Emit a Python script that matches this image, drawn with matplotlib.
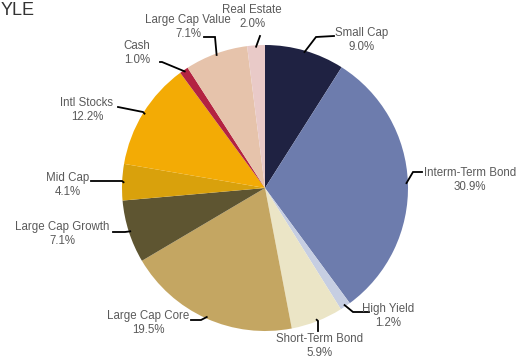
import matplotlib
matplotlib.use("Agg")
import matplotlib.pyplot as plt
import numpy as np

plt.rcParams['font.family'] = ['Liberation Sans', 'DejaVu Sans']

# allocation by style, clockwise from 12 o'clock
categories = ["Small Cap", "Interm-Term Bond", "High Yield", "Short-Term Bond",
              "Large Cap Core", "Large Cap Growth", "Mid Cap", "Intl Stocks",
              "Cash", "Large Cap Value", "Real Estate"]
weights = [9.0, 30.9, 1.2, 5.9, 19.5, 7.1, 4.1, 12.2, 1.0, 7.1, 2.0]
colors = ["#1f2242", "#6d7cad", "#c6cee2", "#ebe5c6", "#c4a662", "#5e5531",
          "#d9a10c", "#f3ab05", "#b32341", "#e6c3ab", "#e9cac8"]

W, H = 517, 360
CX, CY, R = 265, 188, 143


def px(x, y):
    # pixel position (origin top-left) -> data units of the pie
    return (x - CX) / R, (CY - y) / R


# label block centres and leader elbow / end points, in pixels
label_pos = [(362, 40), (470, 180), (388, 316), (320, 346), (148, 323),
             (62, 234), (68, 185), (87, 110), (137, 53), (188, 27), (252, 17)]
elbows = [(316, 37), (413, 172), (353, 312), (318, 321), (201, 320),
          (125, 232), (122, 181), (143, 112), (162, 62), (215, 37), (260, 36)]
ends = [(334, 36), (422, 172), (369, 312), (318, 331), (191, 320),
        (113, 232), (91, 181), (118, 107), (160, 62), (204, 37), (260, 36)]

fig = plt.figure(figsize=(W / 100, H / 100), dpi=100)
ax = fig.add_axes([0, 0, 1, 1])

wedges, _ = ax.pie(weights, colors=colors, startangle=90, counterclock=False,
                   radius=1.0, center=(0, 0), frame=True,
                   wedgeprops=dict(linewidth=0))
ax.set_xlim(-CX / R, (W - CX) / R)
ax.set_ylim(-(H - CY) / R, CY / R)
ax.set_aspect("auto")
ax.axis("off")

for w, name, val, lp, el, en in zip(wedges, categories, weights,
                                    label_pos, elbows, ends):
    mid = np.deg2rad((w.theta1 + w.theta2) / 2)
    sx, sy = 0.99 * np.cos(mid), 0.99 * np.sin(mid)
    ex, ey = px(*el)
    fx, fy = px(*en)
    ax.plot([sx, ex, fx], [sy, ey, fy], color="black", lw=1.3,
            solid_joinstyle="miter", zorder=3)
    tx, ty = px(*lp)
    ax.text(tx, ty, f"{name}\n{val:.1f}%", ha="center", va="center",
            fontsize=8.3, color="#5a5a5a", linespacing=1.25, zorder=4)

fig.text(1 / W, 1 - 2 / H, "YLE", ha="left", va="top", fontsize=13,
         color="#333333")

fig.savefig("out.png", dpi=100)
